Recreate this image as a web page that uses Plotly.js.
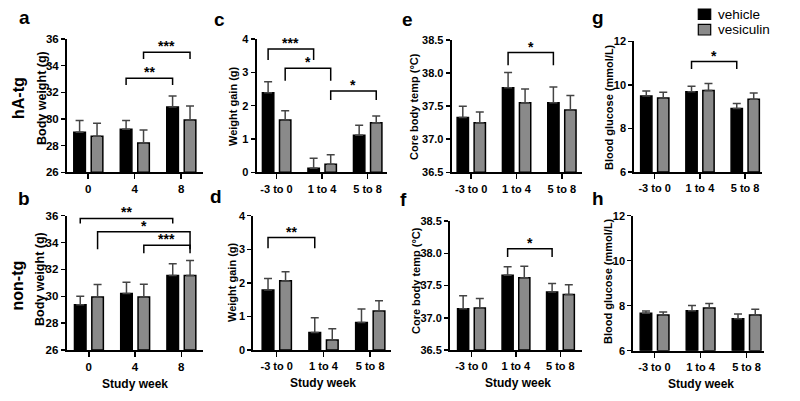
<!DOCTYPE html>
<html><head><meta charset="utf-8">
<script src="https://cdn.plot.ly/plotly-3.0.1.min.js"></script>
<style>html,body{margin:0;padding:0;background:#fff}#chart{width:800px;height:401px}</style>
</head><body><div id="chart"></div>
<script>
// ---------- data ----------
const weekCats = ['0', '4', '8'];
const periodCats = ['-3 to 0', '1 to 4', '5 to 8'];
const seriesNames = ['vehicle', 'vesiculin'];
const rowLabels = ['hA-tg', 'non-tg'];
const panelLetters = ['a', 'b', 'c', 'd', 'e', 'f', 'g', 'h'];
const yTitles = ['Body weight (g)', 'Body weight (g)', 'Weight gain (g)', 'Weight gain (g)',
  'Core body temp (°C)', 'Core body temp (°C)', 'Blood glucose (mmol/L)', 'Blood glucose (mmol/L)'];
const xTitle = 'Study week';

// a: hA-tg body weight
const bwHaVeh = [29.0, 29.23, 30.9];
const bwHaVehErr = [0.88, 0.65, 0.83];
const bwHaVes = [28.7, 28.2, 29.93];
const bwHaVesErr = [0.98, 0.98, 1.05];
// b: non-tg body weight
const bwNonVeh = [29.37, 30.2, 31.55];
const bwNonVehErr = [0.63, 0.85, 0.88];
const bwNonVes = [29.95, 29.95, 31.55];
const bwNonVesErr = [0.92, 0.95, 1.12];
// c: hA-tg weight gain
const wgHaVeh = [2.39, 0.12, 1.11];
const wgHaVehErr = [0.33, 0.3, 0.3];
const wgHaVes = [1.57, 0.24, 1.49];
const wgHaVesErr = [0.28, 0.29, 0.2];
// d: non-tg weight gain
const wgNonVeh = [1.79, 0.52, 0.82];
const wgNonVehErr = [0.34, 0.44, 0.4];
const wgNonVes = [2.06, 0.3, 1.16];
const wgNonVesErr = [0.27, 0.33, 0.31];
// e: hA-tg core temp
const tHaVeh = [37.33, 37.78, 37.55];
const tHaVehErr = [0.17, 0.23, 0.24];
const tHaVes = [37.25, 37.55, 37.44];
const tHaVesErr = [0.16, 0.21, 0.22];
// f: non-tg core temp
const tNonVeh = [37.14, 37.66, 37.4];
const tNonVehErr = [0.2, 0.13, 0.13];
const tNonVes = [37.15, 37.62, 37.36];
const tNonVesErr = [0.15, 0.18, 0.15];
// g: hA-tg blood glucose
const bgHaVeh = [9.49, 9.68, 8.92];
const bgHaVehErr = [0.23, 0.26, 0.22];
const bgHaVes = [9.4, 9.74, 9.34];
const bgHaVesErr = [0.26, 0.32, 0.29];
// h: non-tg blood glucose
const bgNonVeh = [7.66, 7.78, 7.42];
const bgNonVehErr = [0.1, 0.23, 0.21];
const bgNonVes = [7.59, 7.9, 7.59];
const bgNonVesErr = [0.13, 0.2, 0.25];

// y ticks
const bwTicks = [26, 28, 30, 32, 34, 36];
const wgTicks = [0, 1, 2, 3, 4];
const tTicks = [36.5, 37.0, 37.5, 38.0, 38.5];
const bgTicks = [6, 8, 10, 12];

// significance comparisons: [catA, seriesA, catB, seriesB, barY, legEndA, legEndB, label]
const sigA = [[1, 0, 2, 0, 33.05, 32.55, 32.55, '**'], [1, 1, 2, 1, 35.0, 34.5, 34.5, '***']];
const sigB = [[0, 0, 2, 0, 35.8, 35.42, 35.42, '**'], [0, 1, 2, 1, 34.8, 33.5, 33.5, '*'], [1, 1, 2, 1, 33.8, 33.2, 33.2, '***']];
const sigC = [[0, 0, 1, 0, 3.7, 3.37, 3.37, '***'], [0, 1, 1, 1, 3.12, 2.75, 2.75, '*'], [1, 1, 2, 1, 2.44, 2.17, 2.17, '*']];
const sigD = [[0, 0, 1, 0, 3.35, 3.03, 3.03, '**']];
const sigE = [[1, 0, 2, 0, 38.31, 38.12, 38.12, '*']];
const sigF = [[1, 0, 2, 0, 38.07, 37.94, 37.94, '*']];
const sigG = [[1, 0, 2, 0, 11.07, 10.73, 10.73, '*']];
const sigH = [];

// ---------- panels ----------
const panels = [
  {cats: weekCats, veh: bwHaVeh, vehErr: bwHaVehErr, ves: bwHaVes, vesErr: bwHaVesErr, ticks: bwTicks, fmt: null, sig: sigA},
  {cats: weekCats, veh: bwNonVeh, vehErr: bwNonVehErr, ves: bwNonVes, vesErr: bwNonVesErr, ticks: bwTicks, fmt: null, sig: sigB},
  {cats: periodCats, veh: wgHaVeh, vehErr: wgHaVehErr, ves: wgHaVes, vesErr: wgHaVesErr, ticks: wgTicks, fmt: null, sig: sigC},
  {cats: periodCats, veh: wgNonVeh, vehErr: wgNonVehErr, ves: wgNonVes, vesErr: wgNonVesErr, ticks: wgTicks, fmt: null, sig: sigD},
  {cats: periodCats, veh: tHaVeh, vehErr: tHaVehErr, ves: tHaVes, vesErr: tHaVesErr, ticks: tTicks, fmt: 1, sig: sigE},
  {cats: periodCats, veh: tNonVeh, vehErr: tNonVehErr, ves: tNonVes, vesErr: tNonVesErr, ticks: tTicks, fmt: 1, sig: sigF},
  {cats: periodCats, veh: bgHaVeh, vehErr: bgHaVehErr, ves: bgHaVes, vesErr: bgHaVesErr, ticks: bgTicks, fmt: null, sig: sigG},
  {cats: periodCats, veh: bgNonVeh, vehErr: bgNonVehErr, ves: bgNonVes, vesErr: bgNonVesErr, ticks: bgTicks, fmt: null, sig: sigH}
];

// ---------- layout geometry (pixels) ----------
const W = 800, H = 401;
const px = p => p / W;
const py = p => 1 - p / H;
const geom = [
  {x: [67, 203], y: [39, 172.3], xr: [-0.456, 2.469]},
  {x: [66.7, 203], y: [215.7, 350], xr: [-0.478, 2.47]},
  {x: [256.5, 386.7], y: [39, 172.3], xr: [-0.44, 2.42]},
  {x: [253.3, 390.7], y: [215.7, 350], xr: [-0.5, 2.44]},
  {x: [451.7, 581.7], y: [40, 172.3], xr: [-0.43, 2.44]},
  {x: [450, 581.7], y: [221, 350], xr: [-0.48, 2.48]},
  {x: [634.3, 762.3], y: [41.3, 172], xr: [-0.45, 2.38]},
  {x: [633.3, 764], y: [215.7, 350.7], xr: [-0.46, 2.38]}
];
const FONT = 'Liberation Sans, Arial, Helvetica, sans-serif';
const OFF = [-0.31, 0.065], BW = 0.25;
const COLORS = ['#000000', '#8a8a8a'];
const centerOf = (cat, s) => cat + OFF[s] + BW / 2;

const traces = [], shapes = [], annotations = [];
const layout = {
  width: W, height: H, margin: {l: 0, r: 0, t: 0, b: 0},
  paper_bgcolor: '#fff', plot_bgcolor: '#fff', showlegend: false, barmode: 'overlay',
  font: {family: FONT, color: '#000'}
};

panels.forEach((p, i) => {
  const n = i + 1, sx = n === 1 ? '' : String(n);
  const xa = 'x' + sx, ya = 'y' + sx;
  const g = geom[i];
  const xIdx = p.cats.map((c, k) => k);
  const base = p.ticks[0];
  [[p.veh, p.vehErr], [p.ves, p.vesErr]].forEach((d, s) => {
    traces.push({
      type: 'bar', name: seriesNames[s], x: xIdx, y: d[0].map(v => v - base), xaxis: xa, yaxis: ya,
      width: BW, offset: OFF[s], base: base,
      marker: {color: COLORS[s], line: {color: '#000', width: 1.5}},
      error_y: {type: 'data', symmetric: false, array: d[1], arrayminus: d[1].map(() => 0),
        color: '#444', thickness: 1.5, width: 4},
      hoverinfo: 'skip'
    });
  });

  const axCommon = {
    showline: true, linewidth: 2, linecolor: '#000', ticks: 'outside', ticklen: 4, tickwidth: 1.5,
    tickcolor: '#000', showgrid: false, zeroline: false, fixedrange: true,
    tickfont: {family: FONT, size: i < 2 ? 11.5 : 11, weight: 'bold', color: '#000'}
  };
  layout['xaxis' + sx] = Object.assign({}, axCommon, {
    domain: [px(g.x[0]), px(g.x[1])], range: g.xr, anchor: ya,
    tickmode: 'array', tickvals: xIdx, ticktext: p.cats, ticklen: 5
  });
  layout['yaxis' + sx] = Object.assign({}, axCommon, {
    domain: [py(g.y[1]), py(g.y[0])], range: [p.ticks[0], p.ticks[p.ticks.length - 1]], anchor: xa,
    tickmode: 'array', tickvals: p.ticks,
    ticktext: p.ticks.map(t => p.fmt ? t.toFixed(p.fmt) : String(t)), ticklabelstandoff: 0
  });

  p.sig.forEach(b => {
    const x0 = centerOf(b[0], b[1]), x1 = centerOf(b[2], b[3]);
    shapes.push({
      type: 'path', xref: xa, yref: ya,
      path: `M ${x0},${b[5]} L ${x0},${b[4]} L ${x1},${b[4]} L ${x1},${b[6]}`,
      line: {color: '#000', width: 1.5}
    });
    annotations.push({
      xref: xa, yref: ya, x: (x0 + x1) / 2, y: b[4], text: b[7], showarrow: false,
      xanchor: 'center', yanchor: 'bottom', yshift: -4,
      font: {family: FONT, size: 14, weight: 'bold', color: '#000'}
    });
  });
});

// text positions in pixels
const letterPos = [[24, 18], [24, 198], [219, 19], [216, 197], [407, 19], [403, 199], [598, 17], [598, 198]];
letterPos.forEach((pos, i) => annotations.push({
  xref: 'paper', yref: 'paper', x: px(pos[0]), y: py(pos[1]), text: panelLetters[i], showarrow: false,
  xanchor: 'center', yanchor: 'middle', font: {family: FONT, size: 19, weight: 'bold', color: '#000'}
}));
const yTitlePos = [[42, 98], [40, 279], [233, 106], [231.5, 282.5], [414.5, 106.5], [415.5, 280.5], [608.5, 107.5], [607.5, 281.5]];
yTitlePos.forEach((pos, i) => annotations.push({
  xref: 'paper', yref: 'paper', x: px(pos[0]), y: py(pos[1]), text: yTitles[i], showarrow: false,
  textangle: -90, xanchor: 'center', yanchor: 'middle',
  font: {family: FONT, size: i < 2 ? 12.5 : 11, weight: 'bold', color: '#000'}
}));
const xTitlePos = [[135.3, 384], [323, 383], [517.5, 383], [701, 384]];
xTitlePos.forEach(pos => annotations.push({
  xref: 'paper', yref: 'paper', x: px(pos[0]), y: py(pos[1]), text: xTitle, showarrow: false,
  xanchor: 'center', yanchor: 'middle', font: {family: FONT, size: 12, weight: 'bold', color: '#000'}
}));
const rowPos = [[18, 98], [17, 285.5]];
rowPos.forEach((pos, i) => annotations.push({
  xref: 'paper', yref: 'paper', x: px(pos[0]), y: py(pos[1]), text: rowLabels[i], showarrow: false,
  textangle: -90, xanchor: 'center', yanchor: 'middle', font: {family: FONT, size: 16, weight: 'bold', color: '#000'}
}));
// legend
const legendRows = [[9, 19.3, 14], [24.3, 35, 29.3]];
legendRows.forEach((r, s) => {
  shapes.push({type: 'rect', xref: 'paper', yref: 'paper', x0: px(698.3), x1: px(710.7), y0: py(r[1]), y1: py(r[0]),
    fillcolor: COLORS[s], line: {color: '#000', width: 1.2}});
  annotations.push({xref: 'paper', yref: 'paper', x: px(715.5), y: py(r[2]), text: seriesNames[s], showarrow: false,
    xanchor: 'left', yanchor: 'middle', font: {family: FONT, size: 13.5, color: '#000'}});
});

layout.shapes = shapes;
layout.annotations = annotations;
Plotly.newPlot('chart', traces, layout, {staticPlot: true, displayModeBar: false});
</script>
</body></html>
